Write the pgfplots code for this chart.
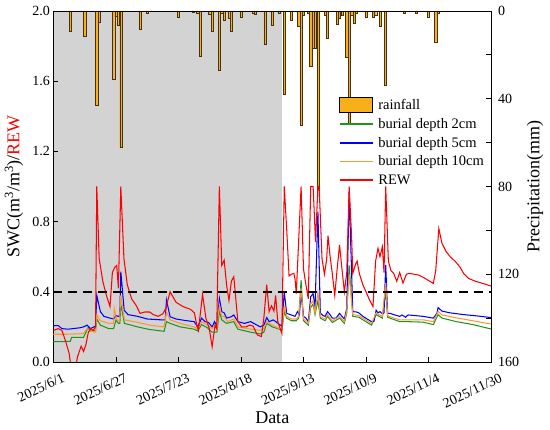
\documentclass[border=0pt]{standalone}
\usepackage{fontspec}
\setmainfont{Liberation Serif}
\usepackage{pgfplots}
\pgfplotsset{compat=1.18}
\definecolor{shade}{RGB}{211,211,211}
\definecolor{rain}{RGB}{247,176,25}
\definecolor{rainedge}{RGB}{70,50,10}
\definecolor{cgreen}{RGB}{30,150,30}
\definecolor{cblue}{RGB}{0,0,255}
\definecolor{corange}{RGB}{255,150,50}
\definecolor{cred}{RGB}{255,0,0}
\begin{document}
\begin{tikzpicture}
\useasboundingbox (-53.5pt,-68pt) rectangle (496.5pt,362pt);
% ---------- precipitation axis (right) ----------
\begin{axis}[
  at={(0pt,0pt)}, anchor=south west,
  scale only axis, width=437.5pt, height=351pt,
  xmin=0, xmax=182, ymin=0, ymax=160, y dir=reverse,
  hide x axis, axis y line*=right,
  ytick={0,40,80,120,160}, minor ytick={20,60,100,140},
  tick align=inside, major tick length=5pt, minor tick length=5pt,
  axis line style={line width=0.8pt}, tick style={line width=0.8pt, black},
  /pgf/number format/assume math mode=true,
  yticklabel style={font=\fontsize{14}{16}\selectfont, xshift=3.5pt},
  ylabel={Precipitation(mm)},
  ylabel style={font=\fontsize{18}{20}\selectfont, at={(axis description cs:1.1006,0.5)}, anchor=center},
]
\addplot[fill=shade, draw=none, forget plot] coordinates {(0,0) (95,0) (95,160) (0,160) (0,0)};
\addplot[ybar, bar width=2.2pt, fill=rain, draw=rainedge, line width=0.35pt, forget plot] coordinates {
(7,9.3) (13,11.7) (18,43) (19,4.9) (25,31) (26,2.4) (27,6.4) (28,62) (36,8.3) (39,1)
(52,2.6) (58,0.7) (60,1) (61,20.5) (65,1.5) (66,9) (69,27) (70,1) (71,4) (73,3.3) (74,9.4)
(78,2.6) (83,1) (84,1.5) (88,15) (91,6.4) (94,1) (96,38) (99,4) (102,7) (103,52) (104,2)
(106,1) (107,25) (108,17) (109,17) (110,81) (113,2) (114,12.5) (118,6) (119,3.3) (120,2)
(122,21) (123,51) (124,2) (125,5.5) (126,1) (130,2.7) (133,3) (134,2) (136,7) (138,34)
(146,0.8) (151,0.8) (156,2.6) (159,14) (160,1)};
\end{axis}
% ---------- SWC / REW axis (left) ----------
\begin{axis}[
  at={(0pt,0pt)}, anchor=south west,
  scale only axis, width=437.5pt, height=351pt,
  xmin=0, xmax=182, ymin=0, ymax=2,
  ytick={0,0.4,0.8,1.2,1.6,2.0}, ytick pos=left,
  xtick={0,26,52,78,104,130,156,182}, xtick pos=bottom,
  xticklabels={2025/6/1,2025/6/27,2025/7/23,2025/8/18,2025/9/13,2025/10/9,2025/11/4,2025/11/30},
  tick align=inside, major tick length=5pt,
  axis line style={line width=0.8pt}, tick style={line width=0.8pt, black},
  /pgf/number format/assume math mode=true,
  yticklabel style={font=\fontsize{14}{16}\selectfont, /pgf/number format/.cd, fixed, fixed zerofill, precision=1},
  xticklabel style={font=\fontsize{14}{16}\selectfont, rotate=25, anchor=north east, xshift=6.3pt, yshift=-9.8pt},
  ylabel={SWC(m\textsuperscript{3}/m\textsuperscript{3})/\textcolor{cred}{REW}},
  ylabel style={font=\fontsize{18}{20}\selectfont, at={(axis description cs:-0.0903,0.5)}, anchor=center},
  xlabel={Data},
  xlabel style={font=\fontsize{18}{20}\selectfont, at={(axis description cs:0.5,0)}, anchor=center, yshift=-56pt},
  legend image code/.code={\draw[#1, line width=1.4pt] (0pt,0pt) -- (33pt,0pt);},
  legend cell align=left,
  legend style={at={(rel axis cs:0.652,0.756)}, anchor=north west, draw=none, fill=none,
    font=\fontsize{14.5}{16}\selectfont, inner sep=0pt, row sep=3.2pt},
]
\addlegendimage{legend image code/.code={\draw[fill=rain, draw=black, line width=0.8pt] (0pt,-7pt) rectangle (33pt,8pt);}}
\addlegendentry{\hspace{3pt}rainfall}
\addplot[cgreen, line width=1.05pt] coordinates {
(0,0.116) (3,0.116) (7,0.118) (7.5,0.14) (12.5,0.14) (14.5,0.20) (15.4,0.175) (17.5,0.18) (18,0.245) (19.5,0.21) (23,0.19) (25,0.19) (26,0.24) (27,0.22) (27.6,0.22) (28,0.33) (29.5,0.22) (35,0.20) (40,0.185) (46,0.175) (47,0.23) (48.5,0.22) (52.7,0.20) (58.5,0.187) (60,0.177) (61.6,0.213) (64,0.195) (66,0.17) (68,0.17) (69,0.287) (70,0.24) (72,0.22) (75,0.23) (76.7,0.187) (82,0.17) (86,0.16) (87.5,0.17) (88.7,0.22) (91,0.20) (94,0.187) (95,0.18) (96,0.287) (97,0.25) (99,0.235) (101,0.235) (102,0.25) (103,0.467) (104,0.235) (106,0.21) (107,0.31) (108,0.33) (108.8,0.27) (110,0.35) (111,0.25) (113,0.235) (114,0.26) (116,0.225) (119,0.25) (121,0.22) (122,0.28) (123,0.55) (124.5,0.26) (127,0.255) (130.5,0.225) (132.3,0.21) (134.2,0.27) (136.8,0.25) (138.2,0.40) (139,0.255) (140,0.25) (144,0.23) (147,0.23) (153.8,0.227) (158,0.213) (160,0.27) (161.6,0.25) (167.6,0.23) (174.5,0.213) (182,0.188)};
\addlegendentry{\hspace{3pt}burial depth 2cm}
\addplot[cblue, line width=1.05pt] coordinates {
(0,0.207) (2,0.207) (3.5,0.19) (6,0.187) (8,0.19) (11,0.195) (12.5,0.20) (14,0.21) (15.4,0.19) (17.5,0.205) (18,0.38) (19.5,0.287) (21,0.26) (23.5,0.25) (25,0.245) (26,0.265) (27,0.26) (27.6,0.265) (28,0.515) (29.4,0.295) (31,0.27) (35,0.26) (39,0.245) (45,0.24) (46.5,0.24) (47,0.353) (48.5,0.258) (51,0.245) (55,0.236) (58.5,0.23) (60,0.20) (61.6,0.25) (63,0.23) (64.5,0.225) (66,0.20) (67,0.23) (68,0.205) (69,0.363) (70,0.287) (71,0.28) (72,0.25) (74,0.258) (75,0.268) (76.7,0.23) (79.4,0.22) (82,0.23) (84,0.215) (86,0.20) (87.5,0.21) (88.7,0.253) (89.7,0.23) (91.4,0.24) (92.5,0.23) (94,0.213) (95,0.205) (96,0.40) (97,0.277) (98.5,0.27) (100.5,0.26) (101.5,0.287) (102.3,0.27) (103,0.39) (104,0.26) (105,0.25) (106,0.23) (107,0.372) (108,0.39) (108.8,0.31) (110,0.857) (111,0.28) (112,0.265) (113,0.26) (114,0.287) (115,0.27) (116,0.25) (117.5,0.25) (118.5,0.268) (119,0.277) (120,0.26) (121,0.245) (122,0.306) (123,0.97) (124.5,0.287) (126,0.285) (127,0.28) (128.7,0.26) (130.5,0.245) (132.3,0.23) (133.3,0.23) (134.2,0.295) (135,0.28) (135.8,0.287) (136.8,0.275) (137.5,0.28) (138.2,0.553) (139,0.277) (140,0.277) (142,0.268) (144,0.26) (145,0.268) (146.5,0.255) (147.5,0.268) (150,0.265) (153.8,0.26) (158,0.25) (159.5,0.277) (160,0.31) (161.6,0.29) (165,0.28) (170.6,0.27) (176,0.263) (182,0.253)};
\addlegendentry{\hspace{3pt}burial depth 5cm}
\addplot[corange, line width=1.05pt] coordinates {
(0,0.158) (5,0.158) (10,0.16) (12.5,0.163) (14,0.19) (15.4,0.175) (17.5,0.17) (18,0.268) (19.5,0.235) (23,0.22) (25,0.22) (25.3,0.307) (26.3,0.24) (27.5,0.235) (28,0.38) (29.5,0.24) (35,0.226) (40,0.21) (46,0.20) (47,0.287) (48.5,0.24) (52.7,0.22) (58.5,0.20) (60,0.186) (61.6,0.23) (64,0.21) (66,0.19) (67,0.21) (68,0.19) (69,0.325) (70,0.26) (71,0.26) (72.5,0.23) (75,0.245) (76.7,0.20) (82,0.187) (86,0.18) (87.5,0.19) (88.7,0.23) (91,0.21) (94,0.19) (95,0.185) (96,0.315) (97,0.26) (99,0.245) (101,0.245) (102,0.26) (103,0.42) (104,0.245) (106,0.22) (107,0.33) (108,0.35) (108.8,0.28) (110,0.40) (111,0.26) (113,0.245) (114,0.27) (116,0.235) (119,0.26) (121,0.23) (122,0.29) (123,0.50) (124.5,0.27) (127,0.265) (130.5,0.235) (132.3,0.22) (134.2,0.28) (136.8,0.26) (138.2,0.45) (139,0.265) (140,0.258) (144,0.24) (147,0.24) (153.8,0.24) (158,0.23) (160,0.287) (161.6,0.268) (167,0.253) (174,0.236) (182,0.216)};
\addlegendentry{\hspace{3pt}burial depth 10cm}
\addplot[cred, line width=1.05pt] coordinates {
(0,0.18) (2,0.19) (3.5,0.18) (5,0.12) (6.5,0.05) (7.5,-0.05) (9,-0.05) (10,0.03) (11.5,0.09) (12.5,0.06) (13.5,0.10) (14.5,0.17) (15.5,0.19) (16.5,0.18) (17.5,0.20) (18,1.0) (19,0.59) (20.5,0.46) (22,0.38) (23.5,0.315) (24.5,0.51) (25.5,0.54) (26.3,0.55) (27,0.42) (28,1.0) (29.3,0.59) (30.7,0.44) (32.5,0.36) (34.5,0.32) (36,0.277) (38,0.285) (40,0.285) (41.5,0.27) (43.5,0.26) (45.5,0.275) (46.7,0.305) (48.5,0.40) (51,0.34) (54,0.315) (57,0.30) (58.6,0.28) (59.6,0.21) (60.3,0.18) (62,0.386) (63.4,0.25) (64.8,0.19) (66,0.087) (67.2,0.21) (67.9,0.19) (69,1.0) (70,0.55) (71,0.58) (72,0.44) (73,0.35) (74,0.46) (75,0.486) (76.7,0.23) (78.3,0.20) (80,0.20) (81.5,0.21) (83,0.205) (84.8,0.154) (86.5,0.145) (87.5,0.25) (88.7,0.44) (89.7,0.287) (90.7,0.32) (91.7,0.29) (92.4,0.38) (93.3,0.23) (95,0.163) (96,1.0) (97,0.76) (98,0.49) (99,0.50) (100,0.505) (100.5,0.47) (101,0.39) (103,1.0) (104,0.53) (105,0.44) (106,0.36) (107,1.0) (108,1.0) (109,0.685) (110,1.0) (110.5,1.0) (111.7,0.59) (112.7,0.50) (113.6,0.58) (114.2,0.72) (115,0.61) (116,0.50) (117,0.38) (118,0.53) (119,0.667) (120,0.53) (121,0.40) (122,0.51) (123,1.0) (124,0.72) (124.5,0.505) (125.6,0.555) (126.3,0.575) (127.3,0.50) (128.7,0.44) (130,0.40) (131.5,0.353) (132.9,0.315) (134,0.575) (135,0.648) (135.8,0.60) (136.8,0.657) (137.5,0.51) (138.2,1.0) (139.3,0.575) (140.4,0.52) (141.5,0.505) (142.8,0.46) (144,0.51) (145.4,0.45) (146.8,0.50) (148,0.505) (150,0.50) (152,0.495) (154.5,0.477) (156.5,0.46) (158,0.448) (159,0.52) (160.3,0.76) (161.6,0.676) (163.3,0.63) (165,0.60) (167,0.575) (169,0.543) (170.6,0.505) (172.7,0.476) (175.5,0.46) (178,0.45) (182,0.433)};
\addlegendentry{\hspace{3pt}REW}
\addplot[black, line width=1.6pt, dash pattern=on 9pt off 6pt, forget plot] coordinates {(0,0.4) (182,0.4)};
\end{axis}
\end{tikzpicture}
\end{document}
